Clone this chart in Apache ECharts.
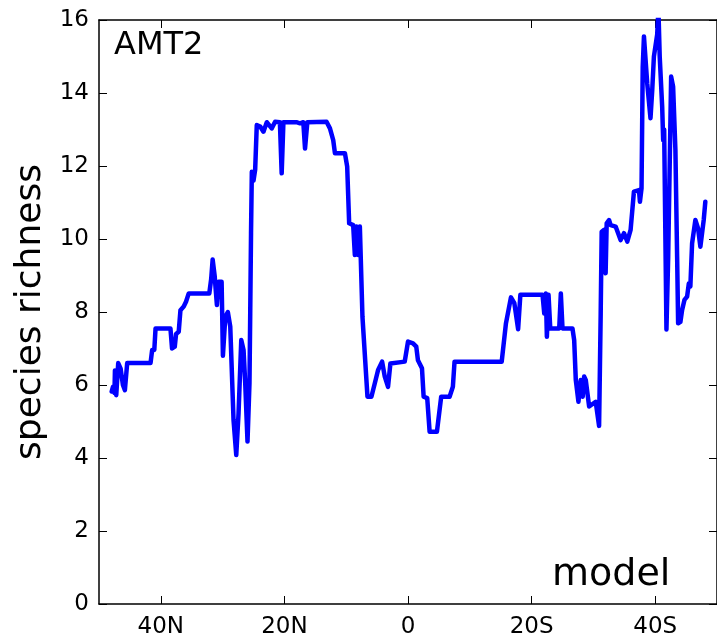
<!DOCTYPE html>
<html>
<head>
<meta charset="utf-8">
<title>AMT2 species richness</title>
<script src="https://cdn.jsdelivr.net/npm/echarts@6/dist/echarts.min.js"></script>
<style>
  html, body { margin: 0; padding: 0; background: #fff; }
  #chart { width: 717px; height: 644px; }
</style>
</head>
<body>
<div id="chart"></div>
<script>
// latitude (N positive, S negative) along the transect
var latitude = [
  47.95, 47.74, 47.5, 47.42, 47.21, 46.89, 46.5, 46.13, 45.81, 45.44,
  41.66, 41.4, 41.05, 40.85, 38.44, 38.18, 37.74, 37.53, 37.1, 36.82,
  36.29, 35.92, 35.48, 32.15, 31.85, 31.61, 31.29, 30.92, 30.65, 30.16,
  29.95, 29.56, 29.15, 28.76, 28.23, 27.79, 27.42, 26.98, 26.61, 26.34,
  25.97, 25.65, 25.53, 25.4, 25.27, 25.0, 24.73, 24.47, 23.92, 23.39,
  22.85, 22.05, 21.5, 20.73, 20.44, 20.16, 18.06, 17.47, 16.94, 16.66,
  16.29, 13.18, 12.63, 12.1, 11.82, 10.21, 9.84, 9.52, 8.87, 8.6,
  8.34, 8.06, 7.79, 7.37, 6.56, 5.92, 5.37, 4.84, 4.19, 3.76,
  3.23, 2.85, 0.53, 0.0, -0.81, -1.34, -1.61, -2.26, -2.53, -3.11,
  -3.5, -4.68, -5.37, -6.73, -7.26, -7.53, -15.16, -15.85, -16.66, -17.21,
  -17.82, -18.18, -21.77, -22.05, -22.31, -22.47, -22.74, -23.02, -24.47, -24.73,
  -25.0, -26.61, -26.89, -27.15, -27.58, -27.95, -28.27, -28.5, -28.76, -29.31,
  -30.37, -30.92, -31.18, -31.34, -31.73, -31.98, -32.15, -32.53, -32.79, -33.6,
  -34.4, -34.95, -35.48, -36.02, -36.56, -37.37, -37.53, -37.79, -37.98, -38.18,
  -38.39, -38.71, -39.24, -39.52, -39.79, -40.32, -40.52, -40.73, -41.13, -41.29,
  -41.45, -41.82, -42.1, -42.58, -42.9, -43.27, -43.55, -43.71, -44.08, -44.35,
  -44.73, -45.16, -45.44, -45.69, -45.97, -46.5, -46.94, -47.31, -47.58, -47.85,
  -48.11
];

// modelled species richness
var richness = [
  5.82, 5.95, 5.78, 6.4, 5.72, 6.6, 6.45, 6.0, 5.86, 6.6,
  6.6, 6.96, 6.96, 7.55, 7.55, 7.0, 7.05, 7.4, 7.46, 8.05,
  8.15, 8.28, 8.51, 8.51, 8.9, 9.44, 9.0, 8.19, 8.83, 8.83,
  6.8, 7.87, 8.0, 7.6, 5.04, 4.08, 5.22, 7.23, 6.96, 6.05,
  4.45, 6.05, 7.96, 10.16, 11.84, 11.6, 11.9, 13.12, 13.08, 12.94,
  13.2, 13.03, 13.21, 13.2, 11.8, 13.2, 13.2, 13.17, 13.2, 12.48,
  13.2, 13.21, 13.03, 12.71, 12.35, 12.35, 11.98, 10.43, 10.38, 9.56,
  10.34, 9.56, 10.34, 7.87, 5.68, 5.68, 6.05, 6.41, 6.64, 6.23,
  5.95, 6.59, 6.64, 7.19, 7.14, 7.05, 6.68, 6.46, 5.68, 5.64,
  4.72, 4.72, 5.68, 5.68, 5.95, 6.64, 6.64, 7.69, 8.4, 8.24,
  7.53, 8.47, 8.47, 7.96, 8.51, 7.32, 8.47, 7.55, 7.55, 8.51,
  7.55, 7.55, 7.23, 6.14, 5.54, 6.14, 5.68, 6.23, 6.14, 5.41,
  5.54, 4.88, 7.96, 10.2, 10.25, 9.06, 10.43, 10.52, 10.38, 10.34,
  9.97, 10.16, 9.93, 10.25, 11.3, 11.34, 11.02, 11.39, 14.7, 15.55,
  15.6, 14.26, 13.31, 14.08, 15.0, 15.6, 16.3, 15.0, 13.62, 12.71,
  13.0, 7.52, 9.5, 14.45, 14.17, 12.44, 9.5, 7.69, 7.73, 8.05,
  8.33, 8.42, 8.78, 8.7, 9.88, 10.52, 10.29, 9.79, 9.84, 10.52,
  11.02
];

var latTicks = [40, 20, 0, -20, -40];

var seriesData = latitude.map(function (lat, i) { return [lat, richness[i]]; });

function latLabel(v) {
  if (v > 0) return v + 'N';
  if (v < 0) return (-v) + 'S';
  return '0';
}

var font = 'DejaVu Sans';
var chart = echarts.init(document.getElementById('chart'), null, { renderer: 'canvas' });

chart.setOption({
  animation: false,
  backgroundColor: '#fff',
  grid: { left: 99, top: 20, right: -3, bottom: 40, containLabel: false },
  xAxis: [{
    type: 'value',
    inverse: true,
    min: -50,
    max: 50,
    position: 'bottom',
    splitLine: { show: false },
    axisLine: { show: true, onZero: false, lineStyle: { color: '#000', width: 1.5 } },
    axisTick: { show: true, inside: true, length: 8, customValues: latTicks, lineStyle: { color: '#000', width: 1 } },
    axisLabel: {
      show: true, customValues: latTicks, margin: 12, color: '#000',
      fontFamily: font, fontSize: 23, formatter: latLabel
    }
  }, {
    type: 'value',
    inverse: true,
    min: -50,
    max: 50,
    position: 'top',
    splitLine: { show: false },
    axisLine: { show: true, onZero: false, lineStyle: { color: '#000', width: 1.5 } },
    axisTick: { show: true, inside: true, length: 8, customValues: latTicks, lineStyle: { color: '#000', width: 1 } },
    axisLabel: { show: false }
  }],
  yAxis: [{
    type: 'value',
    min: 0,
    max: 16,
    interval: 2,
    position: 'left',
    name: 'species richness',
    nameLocation: 'middle',
    nameGap: 36,
    nameTextStyle: { color: '#000', fontFamily: font, fontSize: 36 },
    splitLine: { show: false },
    axisLine: { show: true, onZero: false, lineStyle: { color: '#000', width: 1.5 } },
    axisTick: { show: true, inside: true, length: 8, lineStyle: { color: '#000', width: 1 } },
    axisLabel: { color: '#000', fontFamily: font, fontSize: 23, margin: 10 }
  }, {
    type: 'value',
    min: 0,
    max: 16,
    interval: 2,
    position: 'right',
    splitLine: { show: false },
    axisLine: { show: true, onZero: false, lineStyle: { color: '#000', width: 1.5 } },
    axisTick: { show: true, inside: true, length: 8, lineStyle: { color: '#000', width: 1 } },
    axisLabel: { show: false }
  }],
  graphic: [{
    type: 'text',
    left: 114,
    top: 30,
    style: { text: 'AMT2', fill: '#000', font: '32px "DejaVu Sans"' }
  }, {
    type: 'text',
    left: 552,
    top: 556,
    style: { text: 'model', fill: '#000', font: '38px "DejaVu Sans"' }
  }],
  series: [{
    type: 'line',
    xAxisIndex: 0,
    yAxisIndex: 0,
    data: seriesData,
    showSymbol: false,
    clip: true,
    lineStyle: { color: '#0000ff', width: 4.5, join: 'round', cap: 'round' }
  }]
});
</script>
</body>
</html>
